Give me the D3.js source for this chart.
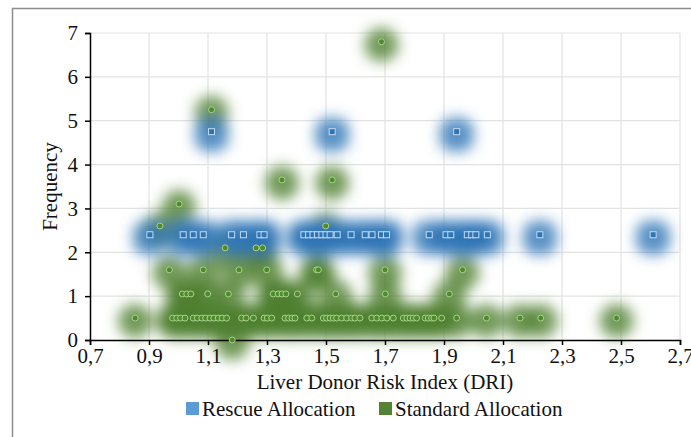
<!DOCTYPE html>
<html>
<head>
<meta charset="utf-8">
<script src="https://cdn.jsdelivr.net/npm/d3@7"></script>
<style>
  body { margin: 0; background: #fff; }
  svg text { font-family: "Liberation Serif", "DejaVu Serif", serif; fill: #111; }
</style>
</head>
<body>
<div id="chart"></div>
<script>
// x tick values (DRI) and y tick values (frequency)
const xTicks = [0.7, 0.9, 1.1, 1.3, 1.5, 1.7, 1.9, 2.1, 2.3, 2.5, 2.7];
const yTicks = [0, 1, 2, 3, 4, 5, 6, 7];

// Rescue allocation: [DRI, frequency]
const rescuePoints = [
  [0.903, 2.4], [1.016, 2.4], [1.050, 2.4], [1.084, 2.4], [1.180, 2.4], [1.220, 2.4],
  [1.276, 2.4], [1.290, 2.4], [1.425, 2.4], [1.441, 2.4], [1.456, 2.4], [1.471, 2.4],
  [1.486, 2.4], [1.500, 2.4], [1.514, 2.4], [1.538, 2.4], [1.585, 2.4], [1.633, 2.4],
  [1.656, 2.4], [1.688, 2.4], [1.705, 2.4], [1.850, 2.4], [1.907, 2.4], [1.923, 2.4],
  [1.979, 2.4], [1.994, 2.4], [2.008, 2.4], [2.047, 2.4], [2.225, 2.4], [2.609, 2.4],
  [1.112, 4.75], [1.521, 4.75], [1.943, 4.75]
];

// Standard allocation: [DRI, frequency]
const standardPoints = [
  [0.853, 0.5], [0.980, 0.5], [0.994, 0.5], [1.007, 0.5], [1.022, 0.5], [1.050, 0.5],
  [1.064, 0.5], [1.079, 0.5], [1.092, 0.5], [1.107, 0.5], [1.120, 0.5], [1.135, 0.5],
  [1.148, 0.5], [1.163, 0.5], [1.214, 0.5], [1.229, 0.5], [1.254, 0.5], [1.290, 0.5],
  [1.301, 0.5], [1.316, 0.5], [1.361, 0.5], [1.373, 0.5], [1.385, 0.5], [1.395, 0.5],
  [1.435, 0.5], [1.452, 0.5], [1.491, 0.5], [1.502, 0.5], [1.514, 0.5], [1.525, 0.5],
  [1.536, 0.5], [1.553, 0.5], [1.570, 0.5], [1.587, 0.5], [1.598, 0.5], [1.615, 0.5],
  [1.655, 0.5], [1.672, 0.5], [1.689, 0.5], [1.706, 0.5], [1.728, 0.5], [1.762, 0.5],
  [1.774, 0.5], [1.785, 0.5], [1.796, 0.5], [1.807, 0.5], [1.836, 0.5], [1.847, 0.5],
  [1.858, 0.5], [1.866, 0.5], [1.892, 0.5], [1.943, 0.5], [2.044, 0.5], [2.158, 0.5],
  [2.228, 0.5], [2.485, 0.5],
  [1.013, 1.05], [1.028, 1.05], [1.042, 1.05], [1.099, 1.05], [1.169, 1.05], [1.321, 1.05],
  [1.338, 1.05], [1.351, 1.05], [1.364, 1.05], [1.403, 1.05], [1.533, 1.05], [1.701, 1.05],
  [1.918, 1.05],
  [0.969, 1.6], [1.084, 1.6], [1.205, 1.6], [1.299, 1.6], [1.468, 1.6], [1.474, 1.6],
  [1.700, 1.6], [1.963, 1.6],
  [1.158, 2.1], [1.263, 2.1], [1.285, 2.1],
  [0.937, 2.6], [1.499, 2.6],
  [1.002, 3.1],
  [1.351, 3.65], [1.521, 3.65],
  [1.112, 5.25],
  [1.688, 6.8],
  [1.182, 0]
];

const width = 691;
const height = 437;
const plot = { left: 90, right: 680, top: 33, bottom: 340 };
const fontSize = 21;

const svg = d3.select('#chart')
  .append('svg')
  .attr('width', width)
  .attr('height', height);

// glow filter
const defs = svg.append('defs');
defs.append('filter')
  .attr('id', 'glow')
  .attr('x', '-100%').attr('y', '-100%')
  .attr('width', '300%').attr('height', '300%')
  .append('feGaussianBlur')
  .attr('stdDeviation', 7);

// chart frame (only top & left visible in the crop)
svg.append('path')
  .attr('d', `M12.5,${height} V8.5 H${width}`)
  .attr('fill', 'none')
  .attr('stroke', '#8c8c8c')
  .attr('stroke-width', 1.5);

const xScale = d3.scaleLinear().domain([0.7, 2.7]).range([plot.left, plot.right]);
const yScale = d3.scaleLinear().domain([0, 7]).range([plot.bottom, plot.top]);

const comma = (d) => d3.format('.1f')(d).replace('.', ',');

// gridlines
const grid = svg.append('g').attr('class', 'grid');
grid.selectAll('line.v')
  .data(xTicks.slice(1))
  .join('line')
  .attr('class', 'v')
  .attr('x1', (d) => xScale(d)).attr('x2', (d) => xScale(d))
  .attr('y1', plot.top).attr('y2', plot.bottom)
  .attr('stroke', '#e3e3e3').attr('stroke-width', 1.2);
grid.selectAll('line.h')
  .data(yTicks.slice(1))
  .join('line')
  .attr('class', 'h')
  .attr('x1', plot.left).attr('x2', plot.right)
  .attr('y1', (d) => yScale(d)).attr('y2', (d) => yScale(d))
  .attr('stroke', '#e3e3e3').attr('stroke-width', 1.2);

// glows
const glowLayer = svg.append('g').attr('filter', 'url(#glow)');
glowLayer.append('g')
  .selectAll('circle')
  .data(standardPoints)
  .join('circle')
  .attr('cx', (d) => xScale(d[0]))
  .attr('cy', (d) => yScale(d[1]) + 3)
  .attr('r', 17)
  .attr('fill', '#4f7f2f')
  .attr('fill-opacity', 0.8);
glowLayer.append('g')
  .selectAll('rect')
  .data(rescuePoints)
  .join('rect')
  .attr('x', (d) => xScale(d[0]) - 17)
  .attr('y', (d) => yScale(d[1]) - 14)
  .attr('width', 34)
  .attr('height', 34)
  .attr('rx', 13)
  .attr('fill', '#2e75b6')
  .attr('fill-opacity', 0.8);

// axes
const xAxis = svg.append('g')
  .attr('transform', `translate(0, ${plot.bottom})`)
  .call(d3.axisBottom(xScale).tickValues(xTicks).tickFormat(comma).tickSize(5).tickSizeOuter(5).tickPadding(3));
const yAxis = svg.append('g')
  .attr('transform', `translate(${plot.left}, 0)`)
  .call(d3.axisLeft(yScale).tickValues(yTicks).tickFormat(d3.format('d')).tickSize(5).tickSizeOuter(5).tickPadding(7));
[xAxis, yAxis].forEach((a) => {
  a.attr('font-family', null);
  a.select('.domain').attr('stroke', '#000').attr('stroke-width', 1.5);
  a.selectAll('.tick line').attr('stroke', '#000').attr('stroke-width', 1.5);
  a.selectAll('.tick text').attr('font-size', fontSize).attr('fill', '#111');
});

// markers
const markers = svg.append('g');
markers.append('g')
  .selectAll('rect')
  .data(rescuePoints)
  .join('rect')
  .attr('x', (d) => xScale(d[0]) - 3)
  .attr('y', (d) => yScale(d[1]) - 3)
  .attr('width', 6)
  .attr('height', 6)
  .attr('fill', '#2e75b6')
  .attr('stroke', '#c5daf0')
  .attr('stroke-width', 1);
markers.append('g')
  .selectAll('circle')
  .data(standardPoints)
  .join('circle')
  .attr('cx', (d) => xScale(d[0]))
  .attr('cy', (d) => yScale(d[1]))
  .attr('r', 3)
  .attr('fill', '#4f8a2c')
  .attr('stroke', '#a9d18e')
  .attr('stroke-width', 1);

// axis titles
svg.append('text')
  .attr('x', (plot.left + plot.right) / 2)
  .attr('y', 389)
  .attr('text-anchor', 'middle')
  .attr('font-size', fontSize)
  .text('Liver Donor Risk Index (DRI)');
svg.append('text')
  .attr('transform', `translate(57, ${(plot.top + plot.bottom) / 2}) rotate(-90)`)
  .attr('text-anchor', 'middle')
  .attr('font-size', fontSize)
  .text('Frequency');

// legend
const legendItems = [
  { label: 'Rescue Allocation', color: '#5b9bd5', x: 186 },
  { label: 'Standard Allocation', color: '#548235', x: 379 }
];
const legend = svg.append('g');
legendItems.forEach((item) => {
  legend.append('rect')
    .attr('x', item.x).attr('y', 402)
    .attr('width', 13).attr('height', 13)
    .attr('fill', item.color);
  legend.append('text')
    .attr('x', item.x + 16).attr('y', 416)
    .attr('font-size', fontSize)
    .text(item.label);
});
</script>
</body>
</html>
